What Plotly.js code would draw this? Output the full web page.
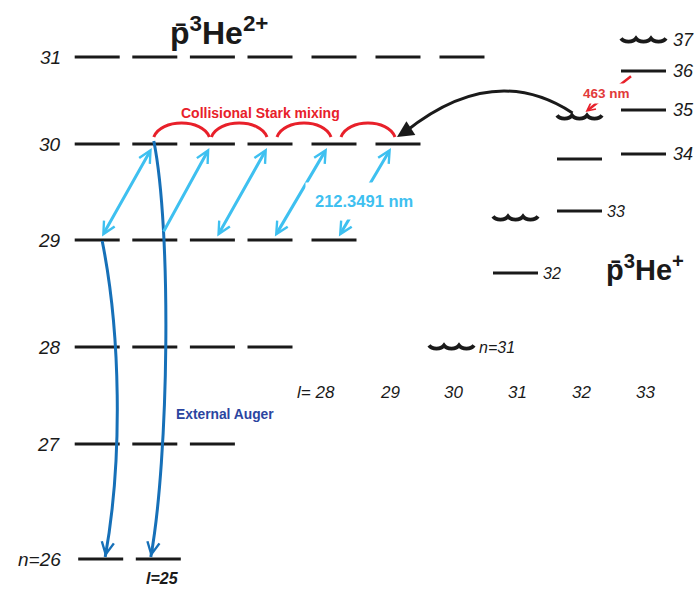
<!DOCTYPE html>
<html>
<head>
<meta charset="utf-8">
<script src="https://cdn.plot.ly/plotly-3.0.1.min.js"></script>
<style>
  html, body { margin: 0; padding: 0; background: #fff; }
  #chart { width: 698px; height: 592px; }
</style>
</head>
<body>
<div id="chart"></div>
<script>
// ---- p̄³He²⁺ ion levels: principal number n, energy (arb. units), highest l drawn (from l = 24)
const ionN = [31, 30, 29, 28, 27, 26];
const ionE = [5.35, 4.48, 3.52, 2.45, 1.48, 0.33];
const ionLmin = 24;
const ionLmax = [30, 29, 28, 27, 26, 25];

// ---- p̄³He⁺ atom levels: n, l, energy (arb. units), short-lived (Auger) flag, drawn label
const atomN = [37, 36, 35, 34, 35, 34, 33, 33, 32, 31];
const atomL = [33, 33, 33, 33, 32, 32, 32, 31, 31, 30];
const atomE = [5.52, 5.21, 4.82, 4.38, 4.75, 4.33, 3.81, 3.74, 3.19, 2.45];
const atomShort = [true, false, false, false, true, false, false, true, false, true];
const atomLabel = ['37', '36', '35', '34', '', '', '33', '', '32', 'n=31'];

// ---- angular momentum column labels
const lTicks = [28, 29, 30, 31, 32, 33];
const lTickText = ['l= 28', '29', '30', '31', '32', '33'];

// ---- two-photon laser transitions n=29, l  <->  n=30, l+1 (212.3491 nm)
const laserLowerL = [24, 25, 26, 27, 28];
const laserBothWays = [true, false, true, true, true];
const laserLabel = '212.3491 nm';

// ---- collisional Stark mixing within n=30: l -> l+1
const starkL = [25, 26, 27, 28];

// ---- external Auger de-excitation: [n, l] -> [n, l]
const augerFrom = [[29, 24], [30, 25]];
const augerTo = [[26, 24], [26, 25]];

// ---- p̄³He⁺ -> p̄³He²⁺ Auger transition and 463 nm laser transition
const atomAugerFrom = [35, 32];
const atomAugerTo = [30, 29];
const laser463From = [36, 33];
const laser463To = [35, 32];

// ---------------------------------------------------------------------------
const W = 698, H = 592;
const X0 = 22.9453, X1 = 33.8516;     // x axis in units of l
const Y0 = 0, Y1 = 5.92;              // y axis, energy (arb.)
const PX = (X1 - X0) / W;             // one pixel in x units
const PY = (Y1 - Y0) / H;             // one pixel in y units
const HALF = 22.5 * PX;               // half width of a level bar

const FONT = 'Liberation Sans, Arial, Helvetica, sans-serif';
const BLACK = '#1a1a1a';
const RED = '#e8202a';
const LIGHTBLUE = '#3ec0f0';
const DARKBLUE = '#1670b8';

// column centre of an ion level (narrower spacing for the low-l columns)
function ionX(l) { return l >= 27 ? l + 0.164 : 27.164 - (27 - l) * 0.9; }
function atomX(l) { return l; }
function ionE_of(n) { return ionE[ionN.indexOf(n)]; }
function atomE_of(n, l) {
  for (let i = 0; i < atomN.length; i++) if (atomN[i] === n && atomL[i] === l) return atomE[i];
  return null;
}

// wavy bar (three rounded dips) centred on a level, used for short-lived states
function wavyPath(xc, e) {
  const x0 = xc - HALF, w = 2 * HALF / 3, up = 1.6 * PY, dip = 2.6 * PY;
  let p = `M ${x0} ${e + up}`;
  for (let i = 0; i < 3; i++) {
    const a = x0 + i * w, b = a + w;
    p += ` C ${a + w * 0.2} ${e - dip} ${b - w * 0.2} ${e - dip} ${b} ${e + up}`;
  }
  return p;
}

const traces = [];
const shapes = [];
const annotations = [];

// ion level bars
{
  const xs = [], ys = [];
  ionN.forEach((n, i) => {
    const shift = n === 26 ? 3.5 * PX : 0;
    for (let l = ionLmin; l <= ionLmax[i]; l++) {
      xs.push(ionX(l) - HALF + shift, ionX(l) + HALF + shift, null);
      ys.push(ionE[i], ionE[i], null);
    }
    annotations.push({
      x: ionX(ionLmin) - HALF, y: ionE[i], xref: 'x', yref: 'y',
      text: (n === 26 ? '<i>n</i>=' : '') + n, showarrow: false,
      xanchor: 'right', yanchor: 'middle', xshift: -12,
      font: { family: FONT, size: 19, color: BLACK, style: 'italic' }
    });
  });
  traces.push({ x: xs, y: ys, mode: 'lines', line: { color: BLACK, width: 3 },
                hoverinfo: 'skip', showlegend: false, connectgaps: false });
}

// atom level bars (flat) and wavy short-lived states
{
  const xs = [], ys = [];
  atomN.forEach((n, i) => {
    const xc = atomX(atomL[i]), e = atomE[i];
    if (!atomShort[i]) {
      xs.push(xc - HALF, xc + HALF, null);
      ys.push(e, e, null);
    } else {
      shapes.push({ type: 'path', xref: 'x', yref: 'y', path: wavyPath(xc, e),
                    line: { color: BLACK, width: 3.8 } });
    }
    if (atomLabel[i]) {
      const big = atomL[i] === 33;
      annotations.push({
        x: xc + HALF, y: e, xref: 'x', yref: 'y', text: atomLabel[i].replace('n=', '<i>n</i>='),
        showarrow: false, xanchor: 'left', yanchor: 'middle', xshift: big ? 5 : 3,
        font: { family: FONT, size: big ? 18 : 16, color: BLACK, style: 'italic' }
      });
    }
  });
  traces.push({ x: xs, y: ys, mode: 'lines', line: { color: BLACK, width: 3 },
                hoverinfo: 'skip', showlegend: false, connectgaps: false });
}

// l column labels
lTicks.forEach((l, i) => {
  annotations.push({
    x: atomX(l), y: (592 - 392) / 100, xref: 'x', yref: 'y',
    text: lTickText[i].replace('l=', '<i>l</i>='), showarrow: false,
    xanchor: 'center', yanchor: 'middle', xshift: i === 0 ? -8 : 2,
    font: { family: FONT, size: 17, color: BLACK, style: 'italic' }
  });
});
annotations.push({
  x: ionX(25) + 3.5 * PX, y: ionE_of(26), xref: 'x', yref: 'y',
  text: '<b><i>l</i>=25</b>', showarrow: false, xanchor: 'center', yanchor: 'top', yshift: -9, xshift: 4,
  font: { family: FONT, size: 16, color: BLACK, style: 'italic' }
});

// species labels
annotations.push({
  x: ionX(26) + 7 * PX, y: 5.92 - 31 * PY, xref: 'x', yref: 'y',
  text: '<b>p\u0304<sup>3</sup>He<sup>2+</sup></b>', showarrow: false,
  xanchor: 'center', yanchor: 'middle',
  font: { family: FONT, size: 32, color: BLACK }
});
annotations.push({
  x: atomX(32) + 24 * PX, y: 5.92 - 268 * PY, xref: 'x', yref: 'y',
  text: '<b>p\u0304<sup>3</sup>He<sup>+</sup></b>', showarrow: false,
  xanchor: 'left', yanchor: 'middle',
  font: { family: FONT, size: 29, color: BLACK }
});

// collisional Stark mixing arcs
{
  const e = ionE_of(30);
  starkL.forEach(l => {
    const x0 = ionX(l) + (l >= 27 ? 7 : -1) * PX, x1 = ionX(l + 1) - 3 * PX;
    const yb = e + 7 * PY, h = 14 * PY, w = x1 - x0;
    shapes.push({ type: 'path', xref: 'x', yref: 'y',
      path: `M ${x0} ${yb} C ${x0 + w * 0.12} ${yb + h * 1.33} ${x1 - w * 0.12} ${yb + h * 1.33} ${x1} ${yb}`,
      line: { color: RED, width: 3 } });
  });
  annotations.push({
    x: ionX(27), y: e + 31 * PY, xref: 'x', yref: 'y', text: '<b>Collisional Stark mixing</b>',
    showarrow: false, xanchor: 'center', yanchor: 'middle', xshift: -10,
    font: { family: FONT, size: 14, color: RED }
  });
}

// laser transitions 29 <-> 30
laserLowerL.forEach((l, i) => {
  const lo = ionE_of(29), hi = ionE_of(30);
  annotations.push({
    x: ionX(l + 1) - (i >= 3 ? 7 : 3) * PX, y: hi - 4 * PY,
    ax: ionX(l) + (i === 1 ? 8 : 4) * PX, ay: lo + (i === 1 ? 7 : 2) * PY,
    xref: 'x', yref: 'y', axref: 'x', ayref: 'y', text: '',
    showarrow: true, arrowhead: 5, startarrowhead: 5,
    arrowside: laserBothWays[i] ? 'end+start' : 'end',
    arrowsize: 0.8, startarrowsize: 0.8, arrowwidth: 3, arrowcolor: LIGHTBLUE,
    standoff: 0, startstandoff: 0
  });
});
annotations.push({
  x: ionX(28.5), y: (ionE_of(29) + ionE_of(30)) / 2 - 0.09, xref: 'x', yref: 'y',
  text: '<b>' + laserLabel + '</b>', showarrow: false, xanchor: 'center', yanchor: 'middle',
  xshift: -2, bgcolor: '#ffffff', borderpad: 9,
  font: { family: FONT, size: 16.5, color: LIGHTBLUE }
});

// external Auger curves
augerFrom.forEach((f, i) => {
  const t = augerTo[i];
  const x0 = ionX(f[1]) + (i === 0 ? 5 : -1) * PX, y0 = ionE_of(f[0]) - (i === 0 ? 1 : -3) * PY;
  const x3 = ionX(t[1]) + (i === 0 ? 8 : -4) * PX, y3 = ionE_of(t[0]) + 2 * PY;
  const x1 = x0 + 18 * PX, y1 = y0 - 90 * PY;
  const x2 = x3 + 18 * PX, y2 = y3 + 100 * PY;
  shapes.push({ type: 'path', xref: 'x', yref: 'y',
    path: `M ${x0} ${y0} C ${x1} ${y1} ${x2} ${y2} ${x3} ${y3}`,
    line: { color: DARKBLUE, width: 3 } });
  annotations.push({
    x: x3, y: y3, ax: x3 + (x2 - x3) * 0.1, ay: y3 + (y2 - y3) * 0.1,
    xref: 'x', yref: 'y', axref: 'x', ayref: 'y', text: '', showarrow: true,
    arrowhead: 5, arrowsize: 0.8, arrowwidth: 3, arrowcolor: DARKBLUE, standoff: 0
  });
});
annotations.push({
  x: ionX(26.2), y: 5.92 - 414 * PY, xref: 'x', yref: 'y', text: '<b>External Auger</b>',
  showarrow: false, xanchor: 'center', yanchor: 'middle', xshift: 1,
  font: { family: FONT, size: 13.8, color: '#2b45a0' }
});

// Auger transition p̄³He⁺ (35,32) -> p̄³He²⁺ (30,29)
{
  const x0 = atomX(atomAugerFrom[1]) - 7 * PX, y0 = atomE_of(atomAugerFrom[0], atomAugerFrom[1]) + 4 * PY;
  const x3 = ionX(atomAugerTo[1]) - 1 * PX, y3 = ionE_of(atomAugerTo[0]) + 7 * PY;
  const xc = x3 + (x0 - x3) * 0.55, yc = y3 + 76 * PY;
  shapes.push({ type: 'path', xref: 'x', yref: 'y',
    path: `M ${x0} ${y0} Q ${xc} ${yc} ${x3 + 8 * PX} ${y3 + 5 * PY}`,
    line: { color: BLACK, width: 3 } });
  annotations.push({
    x: x3, y: y3, ax: x3 + 14 * PX, ay: y3 + 9 * PY, xref: 'x', yref: 'y', axref: 'x', ayref: 'y',
    text: '', showarrow: true, arrowhead: 2, arrowsize: 1.1, arrowwidth: 3,
    arrowcolor: BLACK, standoff: 0
  });
}

// 463 nm laser transition (36,33) -> (35,32)
{
  const xs = atomX(laser463From[1]) - 11 * PX, ys = atomE_of(laser463From[0], laser463From[1]) - 4 * PY;
  const xe = atomX(laser463To[1]) + 6 * PX, ye = atomE_of(laser463To[0], laser463To[1]) + 5 * PY;
  annotations.push({
    x: xe, y: ye, ax: xs, ay: ys, xref: 'x', yref: 'y', axref: 'x', ayref: 'y',
    text: '', showarrow: true, arrowhead: 5, arrowsize: 0.65, arrowwidth: 2.5,
    arrowcolor: RED, standoff: 0
  });
  annotations.push({
    x: (xs + xe) / 2 - 3 * PX, y: (ys + ye) / 2, xref: 'x', yref: 'y', text: '<b>463 nm</b>',
    showarrow: false, xanchor: 'center', yanchor: 'middle', bgcolor: '#ffffff', borderpad: 2,
    font: { family: FONT, size: 13.5, color: '#e23a3a' }
  });
}

const layout = {
  width: W, height: H,
  margin: { l: 0, r: 0, t: 0, b: 0 },
  paper_bgcolor: '#ffffff', plot_bgcolor: '#ffffff',
  xaxis: { range: [X0, X1], visible: false, fixedrange: true },
  yaxis: { range: [Y0, Y1], visible: false, fixedrange: true },
  showlegend: false,
  shapes: shapes,
  annotations: annotations
};

Plotly.newPlot('chart', traces, layout, { staticPlot: true });
</script>
</body>
</html>
